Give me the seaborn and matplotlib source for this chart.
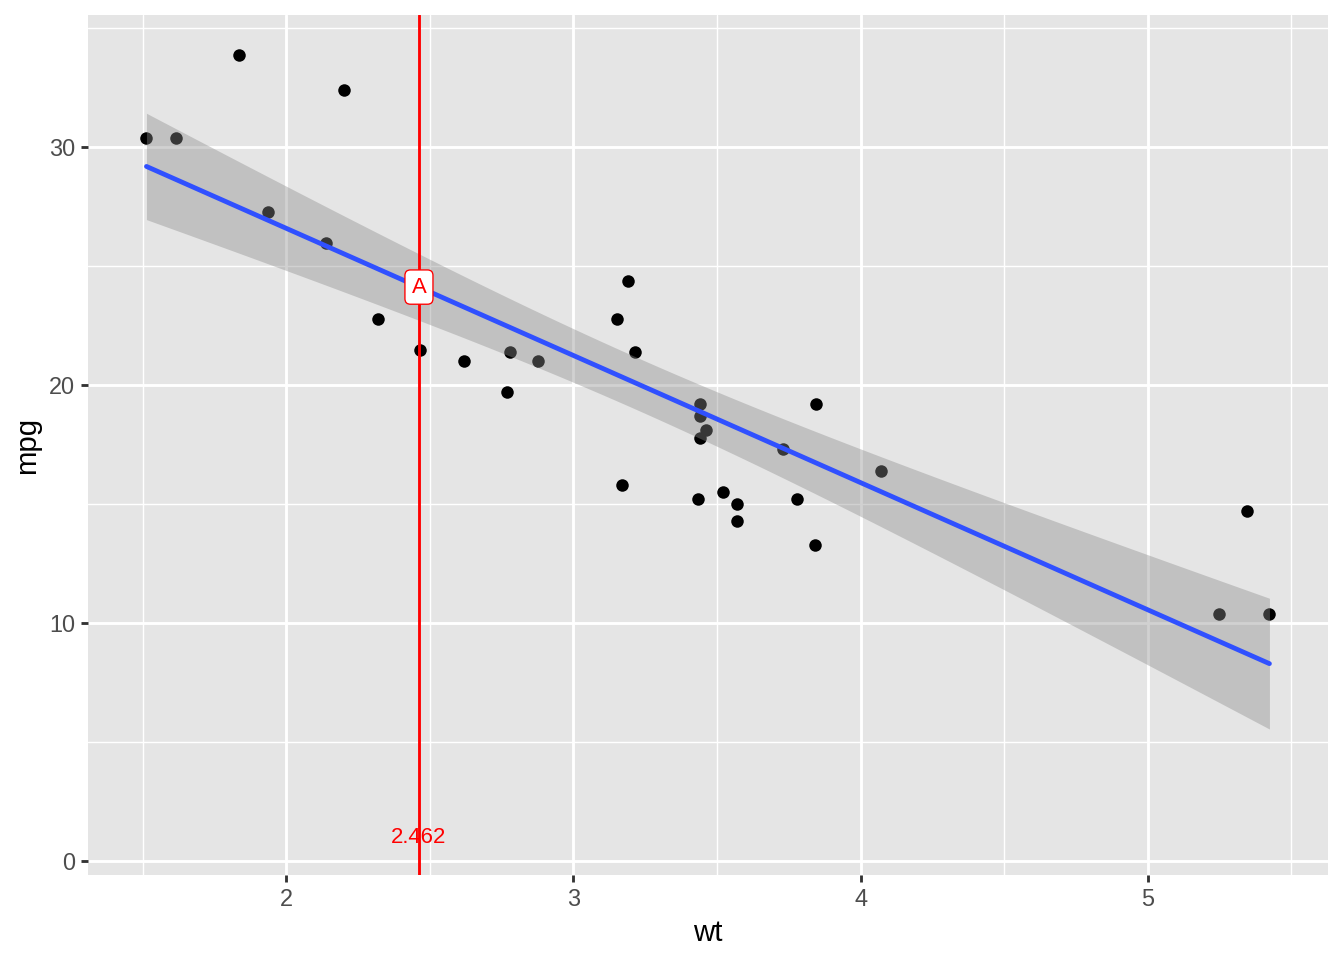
import numpy as np
import pandas as pd
import matplotlib
matplotlib.use("Agg")
import matplotlib.pyplot as plt
import seaborn as sns

# mtcars: weight (1000 lbs) and miles per gallon
wt = [2.620, 2.875, 2.320, 3.215, 3.440, 3.460, 3.570, 3.190, 3.150, 3.440,
      3.440, 4.070, 3.730, 3.780, 5.250, 5.424, 5.345, 2.200, 1.615, 1.835,
      2.465, 3.520, 3.435, 3.840, 3.845, 1.935, 2.140, 1.513, 3.170, 2.770,
      3.570, 2.780]
mpg = [21.0, 21.0, 22.8, 21.4, 18.7, 18.1, 14.3, 24.4, 22.8, 19.2,
       17.8, 16.4, 17.3, 15.2, 10.4, 10.4, 14.7, 32.4, 30.4, 33.9,
       21.5, 15.5, 15.2, 13.3, 19.2, 27.3, 26.0, 30.4, 15.8, 19.7,
       15.0, 21.4]
marker_x = 2.462
marker_label = "A"
x_ticks = [2, 3, 4, 5]
y_ticks = [0, 10, 20, 30]

df = pd.DataFrame({"wt": wt, "mpg": mpg})

# linear fit with 95% confidence band (like geom_smooth(method="lm"))
x = df["wt"].to_numpy()
y = df["mpg"].to_numpy()
n = len(x)
slope, intercept = np.polyfit(x, y, 1)
resid = y - (intercept + slope * x)
s_err = np.sqrt(np.sum(resid ** 2) / (n - 2))
t_val = 2.0423  # t(0.975, df=30)
xs = np.linspace(x.min(), x.max(), 80)
fit = intercept + slope * xs
se_fit = s_err * np.sqrt(1 / n + (xs - x.mean()) ** 2 / np.sum((x - x.mean()) ** 2))
fit_df = pd.DataFrame({"wt": xs, "mpg": fit})

sns.set_theme(style="darkgrid")
plt.rcParams["font.family"] = ["Liberation Sans", "DejaVu Sans"]

fig = plt.figure(figsize=(7, 5), dpi=192)
ax = fig.add_axes([0.0655, 0.0885, 0.9225, 0.8955])
ax.set_facecolor("#E5E5E5")

sns.scatterplot(data=df, x="wt", y="mpg", color="black", s=22, linewidth=0,
                ax=ax, zorder=3)
ax.fill_between(xs, fit - t_val * se_fit, fit + t_val * se_fit,
                color="#8C8C8C", alpha=0.4, linewidth=0, zorder=4)
sns.lineplot(data=fit_df, x="wt", y="mpg", color="#3050FF", linewidth=1.8,
             ax=ax, zorder=5)

ax.axvline(marker_x, color="red", linewidth=1.07, zorder=6)
y_at = intercept + slope * marker_x
ax.text(marker_x, y_at, marker_label, color="red", fontsize=8.3,
        ha="center", va="center", zorder=7,
        bbox=dict(boxstyle="round,pad=0.3,rounding_size=0.25", fc="white",
                  ec="red", lw=0.5))
ax.text(marker_x, 1.0, f"{marker_x:.3f}", color="red", fontsize=8.3,
        ha="center", va="center", zorder=7)

ax.set_xlim(1.3095, 5.6275)
ax.set_ylim(-0.59, 35.55)
ax.set_xticks(x_ticks)
ax.set_yticks(y_ticks)
ax.set_xticks([1.5, 2.5, 3.5, 4.5, 5.5], minor=True)
ax.set_yticks([5, 15, 25, 35], minor=True)
ax.grid(which="major", color="white", linewidth=1.07)
ax.grid(which="minor", color="white", linewidth=0.53)
for sp in ax.spines.values():
    sp.set_visible(False)
ax.tick_params(axis="both", which="major", length=2.75, width=1.07,
               color="#333333", labelsize=8.8, labelcolor="#4D4D4D", pad=2.2,
               bottom=True, left=True)
ax.tick_params(axis="both", which="minor", length=0)
ax.set_xlabel("wt", fontsize=11, color="black", labelpad=3)
ax.set_ylabel("mpg", fontsize=11, color="black", labelpad=3)

fig.savefig("out.png", dpi=192, facecolor="white")
